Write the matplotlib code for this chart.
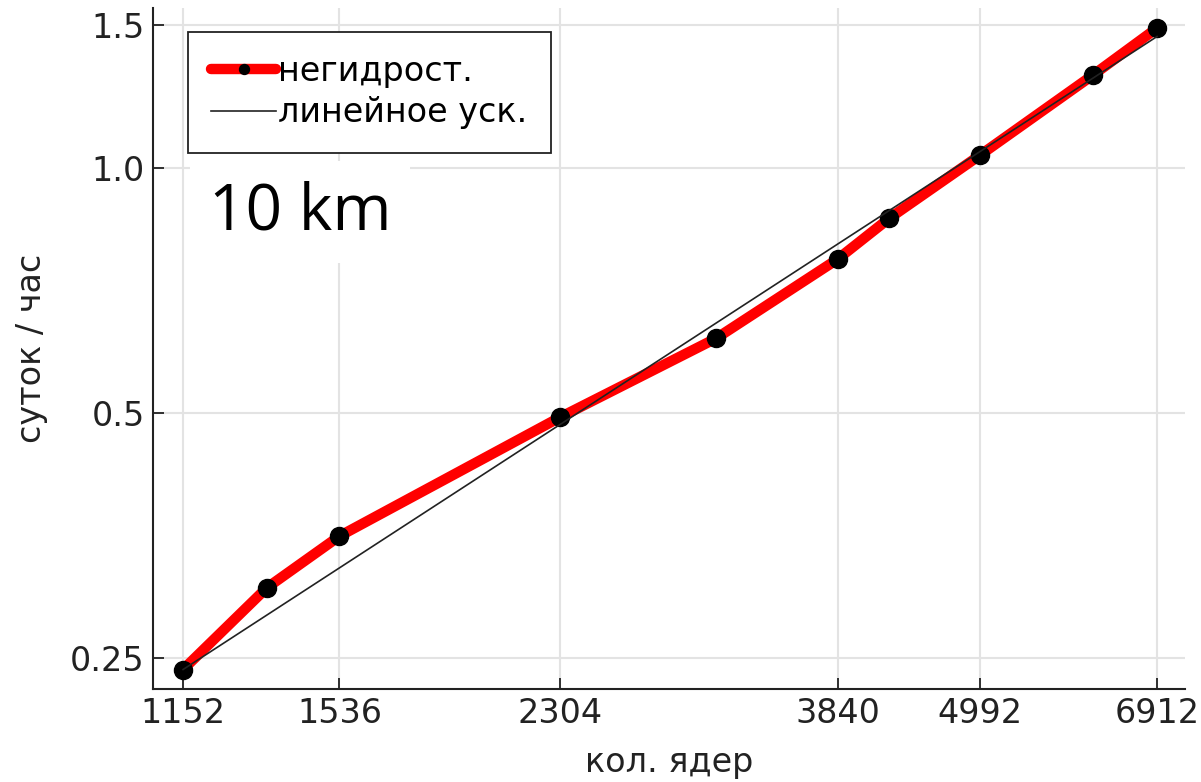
import matplotlib.pyplot as plt
from matplotlib.ticker import FixedLocator, NullLocator

# данные
cores = [1152, 1344, 1536, 2304, 3072, 3840, 4224, 4992, 6144, 6912]
sut_per_hour = [0.242, 0.305, 0.353, 0.494, 0.618, 0.773, 0.868, 1.038, 1.302, 1.487]
ideal_cores = [1152, 6912]
ideal_vals = [0.242, 1.452]

xticks = [1152, 1536, 2304, 3840, 4992, 6912]
yticks = [0.25, 0.5, 1.0, 1.5]
yticklabels = ['0.25', '0.5', '1.0', '1.5']

plt.rcParams['font.family'] = ['DejaVu Sans']

fig = plt.figure(figsize=(12.01, 7.82), dpi=100, facecolor='white')
ax = fig.add_axes([0.1274, 0.1189, 0.8593, 0.8709])

ax.plot(cores, sut_per_hour, color='red', linewidth=7.5, marker='o',
        markersize=13, markerfacecolor='black', markeredgecolor='black',
        label='негидрост.', zorder=3, solid_capstyle='round')
ax.plot(ideal_cores, ideal_vals, color='#222222', linewidth=1.2,
        label='линейное уск.', zorder=4)

ax.set_xscale('log')
ax.set_yscale('log')
ax.set_xlim(1090, 7277)
ax.set_ylim(0.229, 1.574)

ax.xaxis.set_major_locator(FixedLocator(xticks))
ax.xaxis.set_minor_locator(NullLocator())
ax.set_xticklabels([str(t) for t in xticks])
ax.yaxis.set_major_locator(FixedLocator(yticks))
ax.yaxis.set_minor_locator(NullLocator())
ax.set_yticklabels(yticklabels)

ax.grid(True, color='#e3e3e3', linewidth=1.5)
ax.set_axisbelow(True)
for s in ['top', 'right']:
    ax.spines[s].set_visible(False)
for s in ['left', 'bottom']:
    ax.spines[s].set_linewidth(1.5)
    ax.spines[s].set_color('#222222')

ax.tick_params(direction='in', length=8, width=1.3, colors='#222222',
               labelsize=24, pad=6)

ax.set_xlabel('кол. ядер', fontsize=24, color='#222222', labelpad=11)
ax.set_ylabel('суток / час', fontsize=24, color='#222222', labelpad=16)

leg = ax.legend(loc='upper left', bbox_to_anchor=(0.034, 0.965),
                borderaxespad=0, fontsize=24, fancybox=False,
                edgecolor='#222222', framealpha=1, handlelength=1.95,
                handletextpad=0.05, labelspacing=0.25, markerscale=0.55,
                borderpad=0.7)
leg.get_frame().set_linewidth(1.3)

fig.text(300 / 1201, 1 - 212 / 782, '10 km', fontsize=46, family='Open Sans',
         va='center', ha='center', color='black',
         bbox=dict(facecolor='white', edgecolor='none', pad=14))

fig.savefig('out.png', dpi=100)
